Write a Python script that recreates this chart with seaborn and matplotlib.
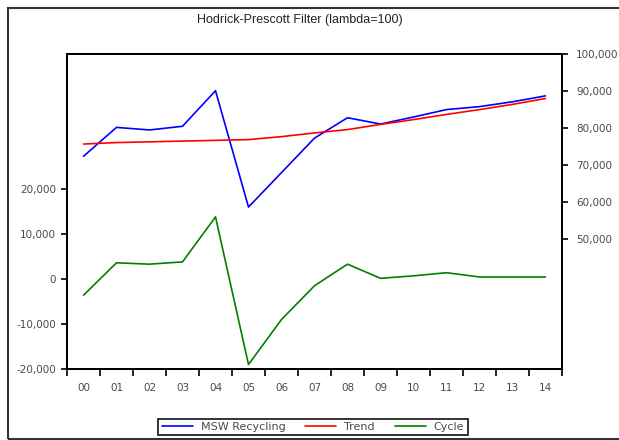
import matplotlib
matplotlib.use("Agg")
import matplotlib.pyplot as plt
import matplotlib.ticker as mticker
from matplotlib.patches import Rectangle
import seaborn as sns
import pandas as pd
import numpy as np

# data
years = ['00', '01', '02', '03', '04', '05', '06', '07', '08', '09', '10', '11', '12', '13', '14']
msw_recycling = [72400, 80200, 79500, 80500, 90100, 58700, 68000, 77300, 82800,
                 81100, 83000, 85000, 85800, 87100, 88700]
trend = [75700, 76100, 76300, 76500, 76700, 76900, 77700, 78700, 79600,
         81000, 82300, 83700, 85000, 86400, 88000]
cycle = [-3600, 3600, 3300, 3800, 13800, -19000, -9000, -1500, 3300,
         150, 700, 1400, 450, 450, 450]

df = pd.DataFrame({'pos': np.arange(len(years)), 'year': years,
                   'MSW Recycling': msw_recycling, 'Trend': trend, 'Cycle': cycle})

sns.set_style("ticks")
plt.rcParams['font.family'] = ['DejaVu Sans']
tick_color = '#4a4a4a'

fig = plt.figure(figsize=(6.19, 4.40), dpi=100)
ax = fig.add_axes([67 / 619, 1 - 369 / 440, (562 - 67) / 619, (369 - 54) / 440])
ax2 = ax.twinx()

# cycle on the left axis, series + trend on the right axis
sns.lineplot(data=df, x='pos', y='Cycle', ax=ax, color='#008000', linewidth=1.2, label='Cycle', legend=False)
sns.lineplot(data=df, x='pos', y='MSW Recycling', ax=ax2, color='#0000FF', linewidth=1.2, label='MSW Recycling', legend=False)
sns.lineplot(data=df, x='pos', y='Trend', ax=ax2, color='#FF0000', linewidth=1.2, label='Trend', legend=False)

ax.set_xlim(-0.5, len(years) - 0.5)
ax.set_ylim(-20000, 50000)
ax2.set_ylim(15000, 100000)

ax.set_yticks(np.arange(-20000, 20001, 10000))
ax2.set_yticks(np.arange(50000, 100001, 10000))
fmt = mticker.FuncFormatter(lambda v, p: f'{int(v):,}')
ax.yaxis.set_major_formatter(fmt)
ax2.yaxis.set_major_formatter(fmt)

# ticks on category boundaries, labels centred between them
ax.set_xticks(np.arange(-0.5, len(years)), labels=[''] * (len(years) + 1))
ax.set_xticks(np.arange(len(years)), labels=years, minor=True)
ax.tick_params(axis='x', which='major', direction='out', length=5, width=1.2, color='black')
ax.tick_params(axis='x', which='minor', length=0, pad=10, labelsize=7.5, labelcolor=tick_color)
ax.tick_params(axis='y', direction='out', length=4, width=1.2, color='black', pad=4,
               labelsize=7.5, labelcolor=tick_color)
ax2.tick_params(axis='y', direction='out', length=4, width=1.2, color='black', pad=6,
                labelsize=7.5, labelcolor=tick_color)

for a in (ax, ax2):
    a.set_xlabel('')
    a.set_ylabel('')
    a.grid(False)
    for s in a.spines.values():
        s.set_visible(True)
        s.set_linewidth(1.4)
        s.set_color('black')

fig.text(300 / 619, 1 - 20 / 440, 'Hodrick-Prescott Filter (lambda=100)', ha='center', va='center',
         fontsize=9, family='Liberation Sans', color='#222222')

# outer frame around the figure
fig.add_artist(Rectangle((8 / 619, 1 - 439 / 440), 1.0, (439 - 8) / 440, transform=fig.transFigure,
                         fill=False, edgecolor='#333333', linewidth=1.5))

h1, l1 = ax2.get_legend_handles_labels()
h0, l0 = ax.get_legend_handles_labels()
leg = fig.legend(h1 + h0, l1 + l0, loc='center', bbox_to_anchor=(313 / 619, 1 - 427 / 440),
                 bbox_transform=fig.transFigure, ncol=3, fontsize=8, frameon=True,
                 fancybox=False, edgecolor='black', handlelength=2.8, columnspacing=1.8,
                 handletextpad=0.7, borderpad=0.3, borderaxespad=0.2)
leg.get_frame().set_linewidth(1.4)
for t in leg.get_texts():
    t.set_color(tick_color)

fig.savefig('out.png', dpi=100)
